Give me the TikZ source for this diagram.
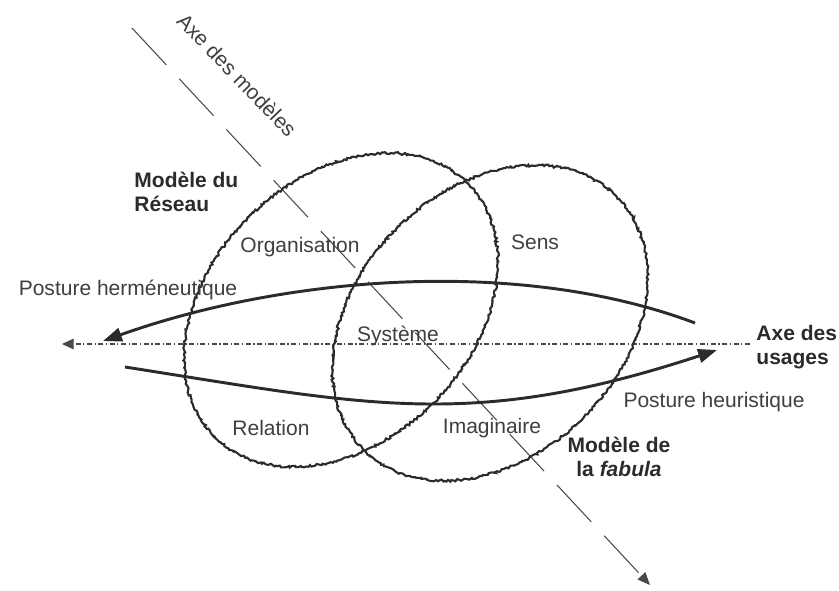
\documentclass[tikz,border=0pt]{standalone}
\usepackage{fontspec}
\setmainfont{Liberation Sans}
\usetikzlibrary{arrows.meta,decorations.pathmorphing}
\definecolor{inkcolor}{HTML}{2b2b2b}
\definecolor{wordcolor}{HTML}{3f3f3f}
\definecolor{axiscolor}{HTML}{4a4a4a}

\tikzset{
  modelring/.style={draw=inkcolor, line width=1pt, decorate,
    decoration={random steps, segment length=0.9pt, amplitude=0.55pt}},
  posture/.style={draw=inkcolor, line width=1.4pt, -{Triangle[length=9pt,width=6.5pt]}},
  modelaxis/.style={draw=axiscolor, line width=0.5pt, dash pattern=on 24pt off 9pt,
    -{Triangle[length=6pt,width=5pt]}},
  usageaxis/.style={draw=axiscolor, line width=0.5pt,
    dash pattern=on 2.4pt off 1.2pt on 0.6pt off 1.2pt, -{Triangle[length=5.5pt,width=5pt]}},
  word/.style={text=wordcolor, font=\fontsize{10}{12}\selectfont, inner sep=0pt},
  heading/.style={text=inkcolor, font=\fontsize{10}{11.5}\selectfont\bfseries, inner sep=0pt},
}

\begin{document}
\begin{tikzpicture}[x=0.476pt,y=-0.476pt]
  \useasboundingbox (0,0) rectangle (839,590);
  \pgfmathsetseed{7}
  % axis of the models
  \coordinate (T) at (132,28); \coordinate (U) at (650,585);
  \draw[modelaxis] (T) -- (U);
  \node[word, rotate=-46] (axemod) at (237,75) {Axe des modèles};
  % axis of the uses
  \coordinate (L) at (62,344); \coordinate (R) at (750,344);
  \draw[usageaxis] (R) -- (L);
  \node[heading, anchor=west, align=left] (axeus) at (756,347) {Axe des\\usages};
  % the two models
  \coordinate (M) at (341,310); \coordinate (N) at (490,323);
  \draw[modelring, rotate around={45:(M)}] (M) ellipse (179 and 131);
  \draw[modelring, rotate around={45:(N)}] (N) ellipse (179 and 133);
  % postures
  \coordinate (H0) at (695,323); \coordinate (H1) at (103,341);
  \draw[posture] (H0) .. controls (517,256) and (283,277) .. (H1);
  \coordinate (E0) at (125,367); \coordinate (E1) at (717,350);
  \draw[posture] (E0) .. controls (368,405) and (471,431) .. (E1);
  % labels
  \node[word] (herm) at (128,290) {Posture herméneutique};
  \node[word] (heur) at (714,402) {Posture heuristique};
  \node[word] (orga) at (300,247) {Organisation};
  \node[word] (sens) at (535,242) {Sens};
  \node[word] (sys) at (398,336) {Système};
  \node[word] (rel) at (271,428) {Relation};
  \node[word] (imag) at (492,428) {Imaginaire};
  \node[heading, anchor=west, align=left] (reseau) at (134,192) {Modèle du\\Réseau};
  \node[heading, align=center] (fabula) at (619,457) {Modèle de\\la \textit{fabula}};
\end{tikzpicture}
\end{document}
